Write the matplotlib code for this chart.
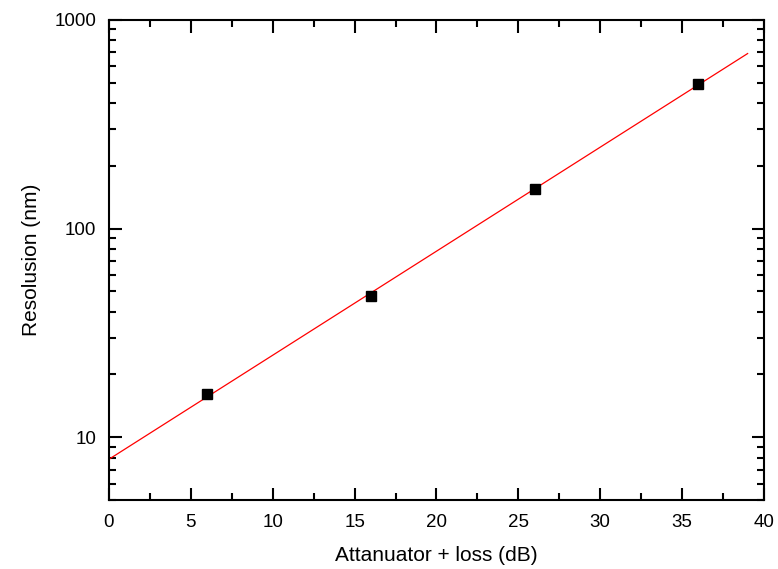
import matplotlib
matplotlib.use("Agg")
import matplotlib.pyplot as plt
from matplotlib.ticker import LogLocator, NullFormatter, FixedLocator, FixedFormatter, MultipleLocator

plt.rcParams['font.family'] = ['Liberation Sans', 'DejaVu Sans']

x_data = [6, 16, 26, 36]
y_data = [16.2, 47.5, 154, 495]
fit_x = [0, 39]
fit_y = [7.85, 690]
y_ticks = [10, 100, 1000]
y_tick_labels = ['10', '100', '1000']

fig = plt.figure(figsize=(7.78, 5.69), dpi=100)
ax = fig.add_axes([0.140, 0.121, 0.842, 0.844])
ax.set_yscale('log')
ax.plot(fit_x, fit_y, color='red', lw=0.9, zorder=2)
ax.plot(x_data, y_data, 's', color='black', ms=7, zorder=3)
ax.set_xlim(0, 40)
ax.set_ylim(5, 1000)
ax.xaxis.set_major_locator(MultipleLocator(5))
ax.xaxis.set_minor_locator(MultipleLocator(2.5))
ax.yaxis.set_major_locator(FixedLocator(y_ticks))
ax.yaxis.set_major_formatter(FixedFormatter(y_tick_labels))
ax.yaxis.set_minor_locator(LogLocator(base=10, subs=[2, 3, 4, 5, 6, 7, 8, 9]))
ax.yaxis.set_minor_formatter(NullFormatter())
ax.tick_params(which='both', direction='in', top=True, right=True, width=1.5, labelsize=13.5, colors='black')
ax.tick_params(which='major', length=9)
ax.tick_params(axis='x', which='major', pad=10)
ax.tick_params(axis='y', which='major', pad=9)
ax.tick_params(which='minor', length=5)
for s in ax.spines.values():
    s.set_linewidth(1.5)
ax.set_xlabel('Attanuator + loss (dB)', fontsize=15, labelpad=11)
ax.set_ylabel('Resolusion (nm)', fontsize=15, labelpad=10)
fig.savefig('out.png', dpi=100)
